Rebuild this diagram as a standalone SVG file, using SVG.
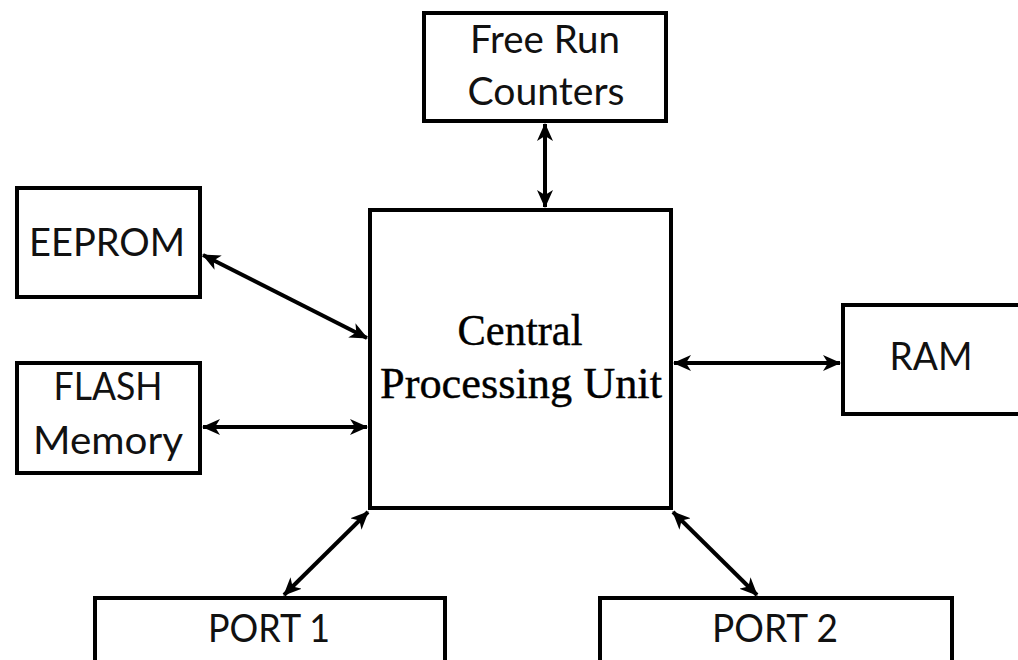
<svg xmlns="http://www.w3.org/2000/svg" width="1018" height="660" viewBox="0 0 1018 660">
  <style>
    .box { fill: #ffffff; stroke: #000000; stroke-width: 4; }
    .lbl { font-family: Lato, "Open Sans", "Liberation Sans", sans-serif; font-size: 39px; fill: #111111; text-anchor: middle; }
    .cpu { font-family: "Liberation Serif", "DejaVu Serif", serif; font-size: 44px; fill: #000000; stroke: #000000; stroke-width: 0.4; text-anchor: middle; }
    .link { fill: none; stroke: #000000; stroke-width: 4; marker-start: url(#head); marker-end: url(#head); }
  </style>
  <defs>
    <marker id="head" viewBox="0 0 18 16" refX="17" refY="8" markerWidth="18" markerHeight="16" markerUnits="userSpaceOnUse" orient="auto-start-reverse">
      <path d="M0,0 L18,8 L0,16 L5,8 Z" fill="#000000"/>
    </marker>
  </defs>

  <rect width="1018" height="660" fill="#ffffff"/>

  <!-- bidirectional links between the CPU and its peripherals -->
  <g id="connectors">
    <line class="link" x1="545" y1="124" x2="545" y2="207"/>
    <line class="link" x1="203" y1="255" x2="367" y2="338"/>
    <line class="link" x1="203" y1="427" x2="367" y2="427"/>
    <line class="link" x1="674" y1="363" x2="840" y2="363"/>
    <line class="link" x1="368" y1="512" x2="284" y2="595"/>
    <line class="link" x1="673" y1="512" x2="757" y2="595"/>
  </g>

  <g id="free-run-counters">
    <rect class="box" x="424" y="13" width="242" height="108"/>
    <text class="lbl" x="545" y="53" textLength="150" lengthAdjust="spacingAndGlyphs">Free Run</text>
    <text class="lbl" x="546" y="105" textLength="157" lengthAdjust="spacingAndGlyphs">Counters</text>
  </g>

  <g id="eeprom">
    <rect class="box" x="17" y="188" width="183" height="109"/>
    <text class="lbl" x="107" y="256" textLength="156" lengthAdjust="spacingAndGlyphs">EEPROM</text>
  </g>

  <g id="flash-memory">
    <rect class="box" x="17" y="363" width="183" height="110"/>
    <text class="lbl" x="108" y="400" textLength="109" lengthAdjust="spacingAndGlyphs">FLASH</text>
    <text class="lbl" x="108" y="454" textLength="150" lengthAdjust="spacingAndGlyphs">Memory</text>
  </g>

  <g id="cpu">
    <rect class="box" x="370" y="210" width="301" height="298"/>
    <text class="cpu" x="520" y="345" textLength="125" lengthAdjust="spacingAndGlyphs">Central</text>
    <text class="cpu" x="521" y="398" textLength="282" lengthAdjust="spacingAndGlyphs">Processing Unit</text>
  </g>

  <g id="ram">
    <rect class="box" x="843" y="305" width="185" height="109"/>
    <text class="lbl" x="931" y="370" textLength="83" lengthAdjust="spacingAndGlyphs">RAM</text>
  </g>

  <g id="port-1">
    <rect class="box" x="95" y="598" width="350" height="80"/>
    <text class="lbl" x="269" y="642" textLength="122" lengthAdjust="spacingAndGlyphs">PORT 1</text>
  </g>

  <g id="port-2">
    <rect class="box" x="600" y="598" width="352" height="80"/>
    <text class="lbl" x="775" y="642" textLength="126" lengthAdjust="spacingAndGlyphs">PORT 2</text>
  </g>
</svg>
